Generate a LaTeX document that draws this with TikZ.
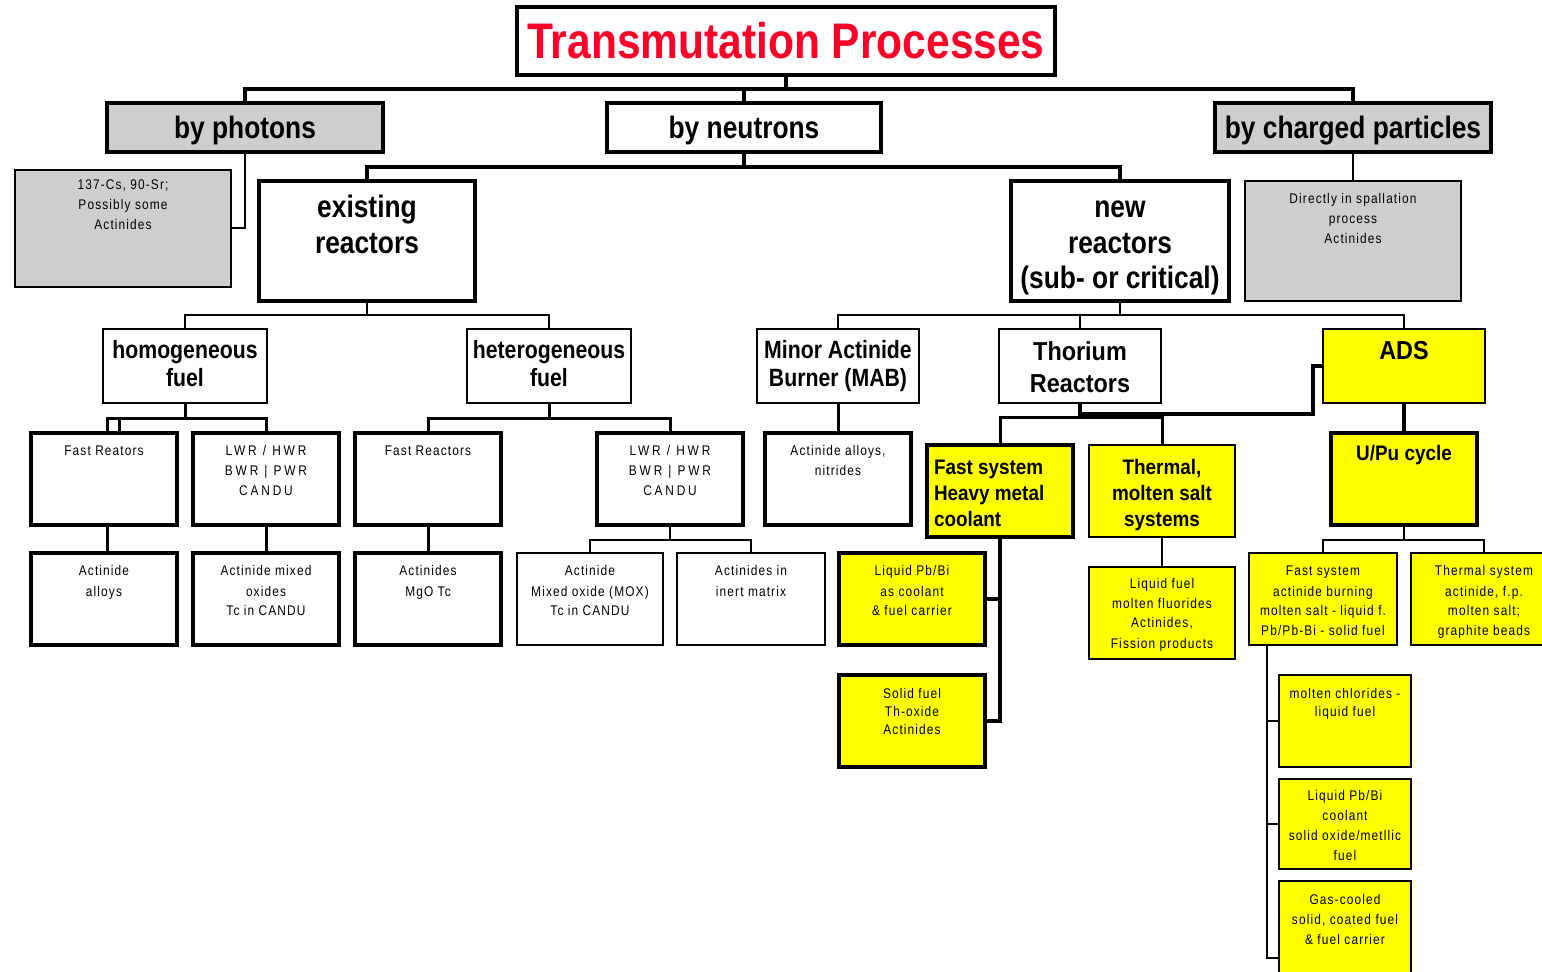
\documentclass[tikz,border=0pt]{standalone}
\usepackage{fontspec}
\setmainfont{Liberation Sans}
\newfontfamily\nbfont{Liberation Sans}[FakeStretch=0.85]
\newfontfamily\abfont{Liberation Sans}[FakeStretch=0.9]
\newfontfamily\smfont{Liberation Sans}[FakeStretch=0.85,LetterSpace=8]
\newfontfamily\smwfont{Liberation Sans}[FakeStretch=0.85,LetterSpace=20]
\newcommand\ftTitle{\nbfont\bfseries\fontsize{25pt}{30pt}\selectfont}
\newcommand\ftOne{\nbfont\bfseries\fontsize{15.5pt}{18pt}\selectfont}
\newcommand\ftTwo{\nbfont\bfseries\fontsize{15.5pt}{17.75pt}\selectfont}
\newcommand\ftThree{\nbfont\bfseries\fontsize{12.5pt}{14pt}\selectfont}
\newcommand\ftThor{\abfont\bfseries\fontsize{13pt}{16pt}\selectfont}
\newcommand\ftYel{\abfont\bfseries\fontsize{10.5pt}{13pt}\selectfont}
\newcommand\ftSm{\smfont\fontsize{7pt}{10pt}\selectfont}
\newcommand\ftSmW{\smwfont\fontsize{7pt}{10pt}\selectfont}
\definecolor{lgray}{RGB}{206,206,206}
\definecolor{tred}{RGB}{255,0,40}
\definecolor{yel}{RGB}{255,255,0}
\newcommand\mybox[8]{%
 \pgfmathsetmacro\bw{(#5-#3)*0.5}%
 \pgfmathsetmacro\bh{(#6-#4)*0.5}%
 \node[#1,anchor=north west,inner sep=0pt,outer sep=0pt] (#2) at (#3,#4)
 {\parbox[c][\bh pt][t]{\bw pt}{\centering\rule{0pt}{#7pt}#8}};}
\begin{document}
\begin{tikzpicture}[x=0.5pt,y=-0.5pt,
 box/.style={draw=black,fill=white},
 tkb/.style={box,line width=2pt},
 tnb/.style={box,line width=1pt},
 gfill/.style={fill=lgray},
 yfill/.style={fill=yel},
 thk/.style={line width=2pt},
 med/.style={line width=1.5pt},
 thn/.style={line width=1pt}]
\useasboundingbox (0,0) rectangle (1542,972);
\clip (0,0) rectangle (1542,972);
% level 0
\mybox{tkb}{title}{517}{7}{1055}{75}{26}{\ftTitle\color{tred}Transmutation Processes}
% level 1
\mybox{tkb,gfill}{phot}{107}{103}{383}{152}{18}{\ftOne by photons}
\mybox{tkb}{neut}{607}{103}{881}{152}{18}{\ftOne by neutrons}
\mybox{tkb,gfill}{chg}{1215}{103}{1491}{152}{18}{\ftOne by charged particles}
\mybox{tnb,gfill}{photleaf}{15}{170}{231}{287}{10}{\ftSm 137-Cs, 90-Sr;\\Possibly some\\Actinides}
\mybox{tnb,gfill}{chgleaf}{1245}{181}{1461}{301}{11.5}{\ftSm Directly in spallation\\process\\Actinides}
% level 2
\mybox{tkb}{exist}{259}{181}{475}{301}{18.5}{\ftTwo existing\\reactors}
\mybox{tkb}{new}{1011}{181}{1229}{301}{18.5}{\ftTwo new\\reactors\\(sub- or critical)}
% level 3
\mybox{tnb}{homo}{103}{329}{267}{403}{15}{\ftThree homogeneous\\fuel}
\mybox{tnb}{hetero}{467}{329}{631}{403}{15}{\ftThree heterogeneous\\fuel}
\mybox{tnb}{mab}{757}{329}{919}{403}{15}{\ftThree Minor Actinide\\Burner (MAB)}
\mybox{tnb}{thor}{999}{329}{1161}{403}{16}{\ftThor Thorium\\Reactors}
\mybox{tnb,yfill}{ads}{1323}{329}{1485}{403}{15.5}{\ftThor ADS}
% level 4
\mybox{tkb}{fra}{31}{433}{177}{525}{11.5}{\ftSm Fast Reators}
\mybox{tkb}{lwra}{193}{433}{339}{525}{11.5}{\ftSmW LWR / HWR\\BWR | PWR\\CANDU}
\mybox{tkb}{frb}{355}{433}{501}{525}{11.5}{\ftSm Fast Reactors}
\mybox{tkb}{lwrb}{597}{433}{743}{525}{11.5}{\ftSmW LWR / HWR\\BWR | PWR\\CANDU}
\mybox{tkb}{nitr}{765}{433}{911}{525}{11.5}{\ftSm Actinide alloys,\\nitrides}
\mybox{tkb,yfill}{fsys}{927}{445}{1073}{537}{15}{\ftYel\raggedright\leftskip=3.5pt Fast system\\Heavy metal\\coolant}
\mybox{tnb,yfill}{therm}{1089}{445}{1235}{537}{15}{\ftYel Thermal,\\molten salt\\systems}
\mybox{tkb,yfill}{upu}{1331}{433}{1477}{525}{14}{\ftYel U/Pu cycle}
% level 5
\mybox{tkb}{alloys}{31}{553}{177}{645}{11.5}{\ftSm Actinide\\alloys}
\mybox{tkb}{mixed}{193}{553}{339}{645}{11.5}{\ftSm Actinide mixed\\oxides\\Tc in CANDU}
\mybox{tkb}{mgo}{355}{553}{501}{645}{11.5}{\ftSm Actinides\\MgO Tc}
\mybox{tnb}{mox}{517}{553}{663}{645}{11.5}{\ftSm Actinide\\Mixed oxide (MOX)\\Tc in CANDU}
\mybox{tnb}{inert}{677}{553}{825}{645}{11.5}{\ftSm Actinides in\\inert matrix}
\mybox{tkb,yfill}{pbbi}{839}{553}{985}{645}{11.5}{\ftSm Liquid Pb/Bi\\as coolant\\\& fuel carrier}
\mybox{tkb,yfill}{solid}{839}{675}{985}{767}{11.5}{\ftSm\fontsize{7pt}{9.2pt}\selectfont Solid fuel\\Th-oxide\\Actinides}
\mybox{tnb,yfill}{liqfuel}{1089}{567}{1235}{659}{10.5}{\ftSm Liquid fuel\\molten fluorides\\Actinides,\\Fission products}
\mybox{tnb,yfill}{fsa}{1249}{553}{1397}{645}{11.5}{\ftSm Fast system\\actinide burning\\molten salt - liquid f.\\Pb/Pb-Bi - solid fuel}
\mybox{tnb,yfill}{tsys}{1411}{553}{1557}{645}{11.5}{\ftSm Thermal system\\actinide, f.p.\\molten salt;\\graphite beads}
\mybox{tnb,yfill}{mc}{1279}{675}{1411}{767}{11.5}{\ftSm\fontsize{7pt}{9pt}\selectfont molten chlorides -\\liquid fuel}
\mybox{tnb,yfill}{pbc}{1279}{779}{1411}{869}{10.5}{\ftSm Liquid Pb/Bi\\coolant\\solid oxide/metllic\\fuel}
\mybox{tnb,yfill}{gc}{1279}{881}{1411}{1035}{11.5}{\ftSm Gas-cooled\\solid, coated fuel\\\& fuel carrier}
% connectors
\draw[thk] (title.south) -- ++(0,14);
\draw[thk] (phot.north) -- ++(0,-14) -| (chg.north);
\draw[thk] (neut.north) -- ++(0,-14);
\draw[thn] (phot.south) |- (photleaf.east);
\draw[thn] (chg.south) -- (chgleaf.north);
\draw[thk] (neut.south) -- ++(0,15);
\draw[thk] (exist.north) -- ++(0,-14) -| (new.north);
\draw[thn] (exist.south) -- ++(0,14);
\draw[thn] (homo.north) -- ++(0,-14) -| (hetero.north);
\draw[thn] (new.south) -- ++(0,14);
\draw[thn] (mab.north) -- ++(0,-14) -| (ads.north);
\draw[thn] (thor.north) -- ++(0,-14);
\draw[med] (homo.south) -- ++(0,16);
\draw[med] ([xshift=1.5pt]fra.north) -- ++(0,-14) -| (lwra.north);
\draw[med] ([xshift=7.5pt]fra.north) -- ++(0,-14);
\draw[med] (hetero.south) -- ++(0,16);
\draw[med] (frb.north) -- ++(0,-14) -| (lwrb.north);
\draw[med] ([xshift=1.5pt]fra.south) -- ([xshift=1.5pt]alloys.north);
\draw[med] (lwra.south) -- (mixed.north);
\draw[med] (frb.south) -- (mgo.north);
\draw[thn] (lwrb.south) -- ++(0,15);
\draw[thn] (mox.north) -- ++(0,-13) -| (inert.north);
\draw[med] (mab.south) -- (nitr.north);
\draw[med] (fsys.north) -- ++(0,-27) -| (therm.north);
\draw[thk] (thor.south) -- ++(0,11) -| ([xshift=-5pt]ads.west) -- (ads.west);
\draw[thk] (fsys.south) |- (solid.east);
\draw[thk] (pbbi.east) -| (fsys.south);
\draw[thn] (therm.south) -- (liqfuel.north);
\draw[thk] (ads.south) -- (upu.north);
\draw[thn] (upu.south) -- ++(0,15);
\draw[thn] (fsa.north) -- ++(0,-13) -| (tsys.north);
\draw[thn] ([xshift=9pt]fsa.south west) |- (gc.west);
\draw[thn] (mc.west) -- ++(-12,0);
\draw[thn] (pbc.west) -- ++(-12,0);
\end{tikzpicture}
\end{document}
